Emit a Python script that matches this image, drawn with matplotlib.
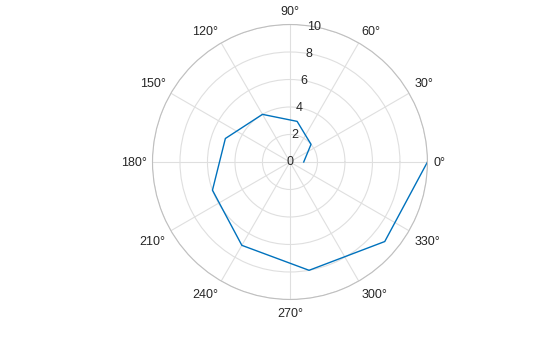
import numpy as np
import matplotlib.pyplot as plt
from matplotlib.transforms import offset_copy

plt.rcParams['font.family'] = ['Liberation Sans', 'DejaVu Sans']

theta_deg = [0, 40, 80, 120, 160, 200, 240, 280, 320, 360]
rho = [1, 2, 3, 4, 5, 6, 7, 8, 9, 10]
theta_ticks = list(range(0, 360, 30))
r_ticks = [0, 2, 4, 6, 8, 10]

fig = plt.figure(figsize=(5.6, 3.37), dpi=100)
ax = fig.add_axes([0.2723, 0.1113, 0.491, 0.816], projection='polar')

ax.plot(np.deg2rad(theta_deg), rho, color='#0072BD', lw=1.0)

ax.set_ylim(0, 10)
ax.set_yticks(r_ticks)
ax.set_yticklabels([])
ax.set_xticks(np.deg2rad(theta_ticks))
ax.set_xticklabels([])

# r labels sit on the 80 degree spoke, centred like MATLAB
for r in r_ticks:
    ax.text(np.deg2rad(80), r, str(r), ha='center', va='center',
            fontsize=9, color='#262626', clip_on=False)

# theta labels just outside the circle, aligned by quadrant
lower = offset_copy(ax.transData, fig=fig, y=-2.5, units='dots')
for t in theta_ticks:
    c, s = np.cos(np.deg2rad(t)), np.sin(np.deg2rad(t))
    ha = 'left' if c > 0.01 else ('right' if c < -0.01 else 'center')
    va = 'bottom' if s > 0.01 else ('top' if s < -0.01 else 'center_baseline')
    tr = lower if s < -0.01 else ax.transData
    ax.text(np.deg2rad(t), 10.44, f'{t}°', ha=ha, va=va, transform=tr,
            fontsize=9, color='#262626', clip_on=False)

ax.grid(color='#DFDFDF', lw=0.8)
ax.spines['polar'].set_color('#BFBFBF')
ax.spines['polar'].set_linewidth(0.8)

fig.savefig('out.png', dpi=100)
